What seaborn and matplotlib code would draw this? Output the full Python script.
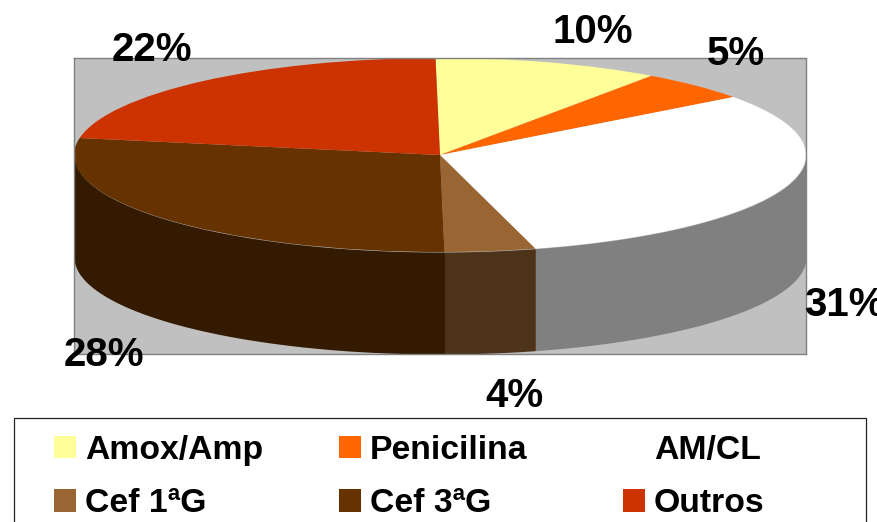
import numpy as np
import matplotlib
matplotlib.use("Agg")
import matplotlib.pyplot as plt
from matplotlib.patches import Patch, Rectangle
import seaborn as sns

categories = ["Amox/Amp", "Penicilina", "AM/CL", "Cef 1ªG", "Cef 3ªG", "Outros"]
shares = [10, 5, 31, 4, 28, 22]
slice_hex = ["#FFFF99", "#FF6600", "#FFFFFF", "#996633", "#663300", "#CC3300"]

sns.set_theme(style="white")
plt.rcParams["font.family"] = ["Liberation Sans", "DejaVu Sans"]
palette = sns.color_palette(slice_hex)

W, H = 878, 522
fig = plt.figure(figsize=(W / 100, H / 100), dpi=100, facecolor="white")

# Plot wall, in pixels from the top-left of the figure
left, right, top, bottom = 74, 806, 58, 354
ax = fig.add_axes([left / W, 1 - bottom / H, (right - left) / W, (bottom - top) / H])

# One data unit is the pie radius on each axis, so the round pie turns into a flat ellipse
rim_height = 97
depth = 102 / rim_height
first_angle = 90.7
ax.pie(shares, colors=palette, startangle=first_angle, counterclock=False,
       wedgeprops={"linewidth": 0})
ax.set_aspect("auto")
ax.set_xlim(-1, 1)
ax.set_ylim(-(bottom - top - rim_height) / rim_height, 1)
ax.set_frame_on(True)
ax.set_facecolor("#C0C0C0")
for spine in ax.spines.values():
    spine.set_color("#808080")
    spine.set_linewidth(1)

# Front wall of the cylinder: each slice's outer arc swept down, in a darker shade
edges = first_angle - 3.6 * np.concatenate([[0], np.cumsum(shares)])
for start, stop, colour in zip(edges[:-1], edges[1:], palette):
    lo, hi = max(stop, -180), min(start, 0)
    if lo >= hi:
        continue
    theta = np.radians(np.linspace(lo, hi, 120))
    ax.fill_between(np.cos(theta), np.sin(theta), np.sin(theta) - depth,
                    color=tuple(c * 0.5 for c in colour), linewidth=0)

# Percentage labels sit around the pie at hand-picked spots (pixels)
label_spots = [(593, 32), (736, 54), (844, 305), (515, 396), (104, 355), (152, 50)]
for share, (px, py) in zip(shares, label_spots):
    fig.text(px / W, 1 - py / H, f"{share}%", ha="center", va="center",
             fontsize=29, fontweight="bold", color="black")

# Legend box runs off the lower edge of the figure
fig.add_artist(Rectangle((14 / W, -30 / H), (866 - 14) / W, (522 + 30 - 418) / H,
                         transform=fig.transFigure, facecolor="white",
                         edgecolor="#222222", linewidth=0.9, clip_on=False, zorder=1))

# Legend columns fill top to bottom, so entries go in column order to read row by row
order = [0, 3, 1, 4, 2, 5]
handles = [Patch(facecolor=palette[i], edgecolor="none") for i in order]
font_px = 24.3 * 100 / 72
legend = fig.legend(handles, [categories[i] for i in order], ncols=3, loc="upper left",
                    bbox_to_anchor=(54 / W, 1 - 435 / H), borderaxespad=0,
                    prop={"size": 24.3, "weight": "bold"},
                    frameon=False, borderpad=0,
                    handlelength=22 / font_px, handleheight=22 / font_px,
                    handletextpad=9 / font_px, columnspacing=0,
                    labelspacing=0.66, labelcolor="black")
legend.set_zorder(2)

# Uneven column pitch of the legend
columns = legend.get_children()[0].get_children()[1].get_children()
for column, pitch in zip(columns, [285, 284, 227]):
    column.align = "left"
    column.width = pitch

fig.savefig("out.png", dpi=100, facecolor="white")
